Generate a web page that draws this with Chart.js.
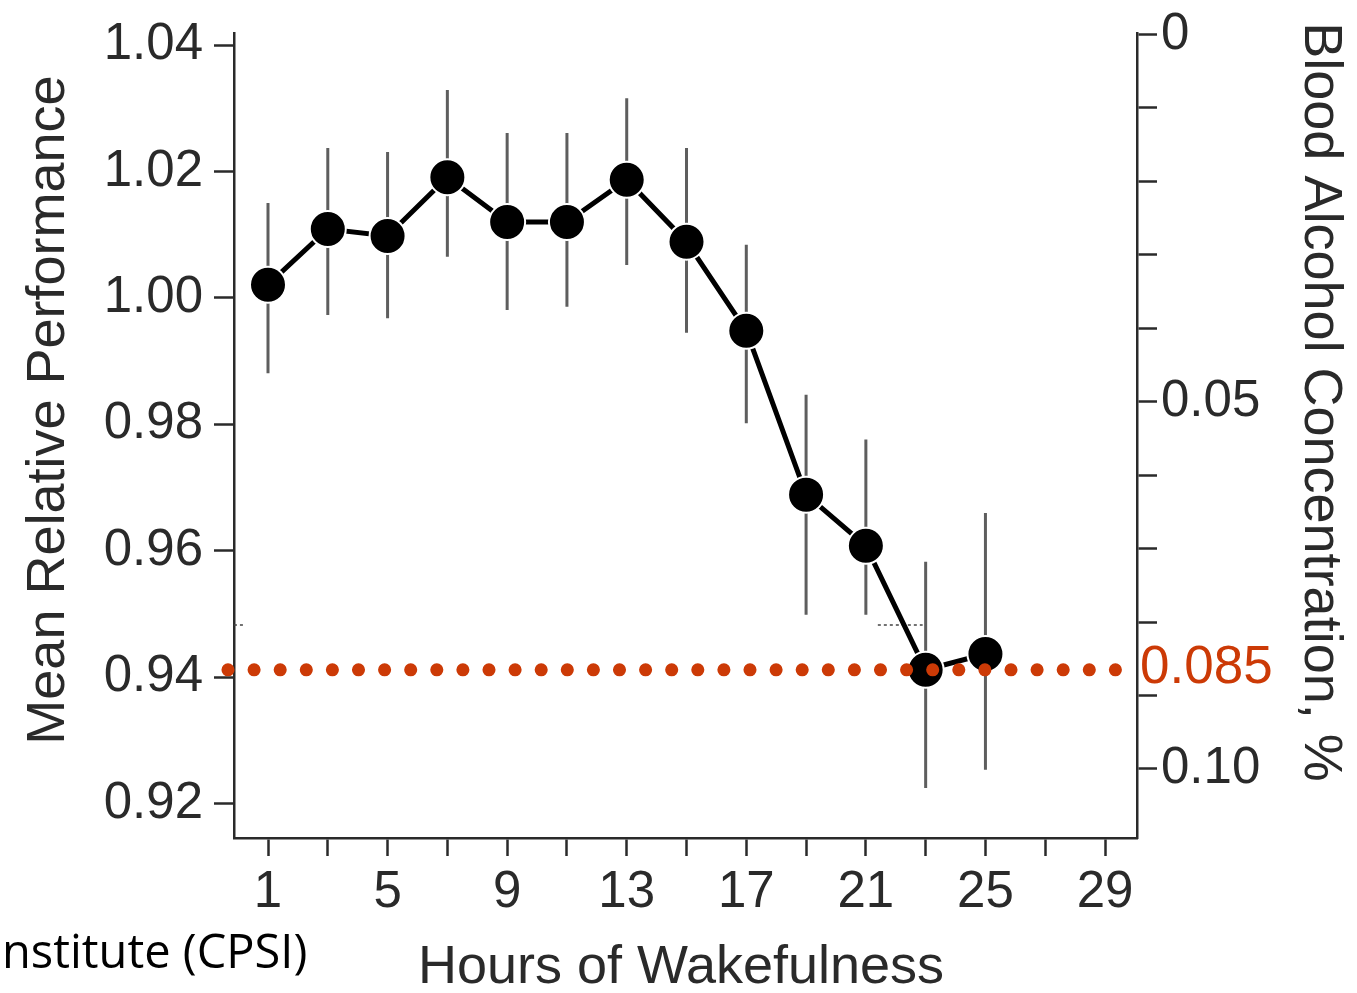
<!DOCTYPE html>
<html>
<head>
<meta charset="utf-8">
<script src="https://cdn.jsdelivr.net/npm/chart.js@4/dist/chart.umd.min.js"></script>
<style>
  html, body { margin: 0; padding: 0; background: #fff; }
  #wrap { width: 1357px; height: 993px; }
</style>
</head>
<body>
<div id="wrap"><canvas id="chart" width="1357" height="993"></canvas></div>
<script>
/* ===== data ===== */
const hours       = [1, 3, 5, 7, 9, 11, 13, 15, 17, 19, 21, 23, 25];
const performance = [1.0021, 1.0109, 1.0098, 1.0191, 1.0120, 1.0120, 1.0187, 1.0089, 0.9948, 0.9689, 0.9608, 0.9412, 0.9437];
const errHigh     = [1.0150, 1.0237, 1.0231, 1.0329, 1.0261, 1.0261, 1.0316, 1.0237, 1.0084, 0.9847, 0.9776, 0.9583, 0.9660];
const errLow      = [0.9881, 0.9973, 0.9968, 1.0065, 0.9981, 0.9986, 1.0052, 0.9945, 0.9802, 0.9499, 0.9499, 0.9225, 0.9254];

// 0.085 % BAC equivalent, dotted across the plot
const bacLevel      = 0.9412;
const bacLineHours  = [-0.34, 29.4];

// faint dashed leftovers at the same height on the left and near hour 22
const stubLevel = 0.9483;
const stubHours = [[-0.14, 0.23], [21.4, 22.9]];

// axes
const hourTicks  = [1, 3, 5, 7, 9, 11, 13, 15, 17, 19, 21, 23, 25, 27, 29];
const hourLabels = [1, 5, 9, 13, 17, 21, 25, 29];
const perfTicks  = [0.92, 0.94, 0.96, 0.98, 1.00, 1.02, 1.04];
const bacTicks   = [0, 0.01, 0.02, 0.03, 0.04, 0.05, 0.06, 0.07, 0.08, 0.09, 0.10];
const bacLabels  = { 0: '0', 5: '0.05', 10: '0.10' };   // keyed by hundredths

/* ===== look ===== */
const INK   = '#2a2a2a';
const RED   = '#cc3a06';
const FONT  = '"Liberation Sans", Arial, sans-serif';
const tickFont = { family: FONT, size: 51 };

/* ---- error bars: one broken line ---- */
const errData = [];
hours.forEach(function (h, i) {
    errData.push({ x: h, y: errLow[i] });
    errData.push({ x: h, y: errHigh[i] });
    errData.push({ x: h, y: null });
});

const stubData = [];
stubHours.forEach(function (seg) {
    stubData.push({ x: seg[0], y: stubLevel });
    stubData.push({ x: seg[1], y: stubLevel });
    stubData.push({ x: seg[1], y: null });
});

// fixed box sizes, no label overflow padding
function fixWidth(w) {
    return function (s) { s.width = w; s.paddingTop = 0; s.paddingBottom = 0; };
}
function fixHeight(h) {
    return function (s) { s.height = h; s.paddingLeft = 0; s.paddingRight = 0; };
}

/* ---- text drawn over the chart ---- */
const annotate = {
    id: 'annotate',
    afterDraw(chart) {
        const ctx = chart.ctx;
        ctx.save();
        ctx.textBaseline = 'alphabetic';
        ctx.fillStyle = INK;
        ctx.font = '54px ' + FONT;

        // left title
        ctx.save();
        ctx.translate(64, 410);
        ctx.rotate(-Math.PI / 2);
        ctx.textAlign = 'center';
        ctx.fillText('Mean Relative Performance', 0, 0);
        ctx.restore();

        // right title
        ctx.save();
        ctx.translate(1305, 402);
        ctx.rotate(Math.PI / 2);
        ctx.textAlign = 'center';
        ctx.fillText('Blood Alcohol Concentration, %', 0, 0);
        ctx.restore();

        // x title
        ctx.textAlign = 'center';
        ctx.fillText('Hours of Wakefulness', 681, 983);

        // 0.085 marker on right axis
        ctx.textAlign = 'left';
        ctx.fillStyle = RED;
        ctx.font = '53px ' + FONT;
        ctx.fillText('0.085', 1140, 683);

        // cropped source credit
        ctx.fillStyle = '#000';
        ctx.font = '47px "Open Sans", sans-serif';
        ctx.fillText('nstitute (CPSI)', 2, 968);
        ctx.restore();
    }
};

new Chart(document.getElementById('chart').getContext('2d'), {
    type: 'line',
    data: {
        datasets: [
            {
                label: 'BAC 0.085',
                data: bacLineHours.map(h => ({ x: h, y: bacLevel })),
                borderColor: RED,
                borderWidth: 13,
                borderDash: [0.1, 26],
                borderCapStyle: 'round',
                pointRadius: 0,
                clip: false,
                order: 0
            },
            {
                label: 'Mean relative performance',
                data: hours.map((h, i) => ({ x: h, y: performance[i] })),
                borderColor: '#000',
                borderWidth: 5,
                tension: 0,
                pointRadius: 18,
                pointBackgroundColor: '#000',
                pointBorderColor: '#fff',
                pointBorderWidth: 2,
                order: 1
            },
            {
                label: 'stubs',
                data: stubData,
                borderColor: '#444',
                borderWidth: 1.5,
                borderDash: [3, 3],
                pointRadius: 0,
                spanGaps: false,
                clip: false,
                order: 2
            },
            {
                label: 'SE',
                data: errData,
                borderColor: '#5e5e5e',
                borderWidth: 3,
                pointRadius: 0,
                spanGaps: false,
                order: 3
            }
        ]
    },
    options: {
        responsive: false,
        animation: false,
        layout: { padding: { top: 33, left: 0, right: 0, bottom: 0 } },
        plugins: {
            legend: { display: false },
            tooltip: { enabled: false }
        },
        scales: {
            x: {
                type: 'linear',
                position: 'bottom',
                min: -0.1375,
                max: 30.07,
                afterBuildTicks: s => { s.ticks = hourTicks.map(v => ({ value: v })); },
                afterFit: fixHeight(155),
                ticks: {
                    autoSkip: false, maxRotation: 0, padding: 6,
                    color: INK, font: tickFont,
                    callback: v => hourLabels.includes(v) ? String(v) : ''
                },
                grid: { drawOnChartArea: false, tickLength: 18, tickWidth: 2.5, color: INK },
                border: { color: INK, width: 2.5 }
            },
            y: {
                type: 'linear',
                position: 'left',
                min: 0.9146,
                max: 1.0419,
                afterBuildTicks: s => { s.ticks = perfTicks.map(v => ({ value: v })); },
                afterFit: fixWidth(234),
                ticks: {
                    padding: 11, color: INK, font: tickFont,
                    callback: v => v.toFixed(2)
                },
                grid: { drawOnChartArea: false, tickLength: 20, tickWidth: 2.5, color: INK },
                border: { color: INK, width: 2.5 }
            },
            y2: {
                type: 'linear',
                position: 'right',
                reverse: true,
                min: -0.0002,
                max: 0.1094,
                afterBuildTicks: s => { s.ticks = bacTicks.map(v => ({ value: v })); },
                afterFit: fixWidth(220),
                ticks: {
                    padding: 4, color: INK, font: tickFont,
                    callback: v => bacLabels[Math.round(v * 100)] || ''
                },
                grid: { drawOnChartArea: false, tickLength: 20, tickWidth: 2.5, color: INK },
                border: { color: INK, width: 2.5 }
            }
        }
    },
    plugins: [annotate]
});
</script>
</body>
</html>
